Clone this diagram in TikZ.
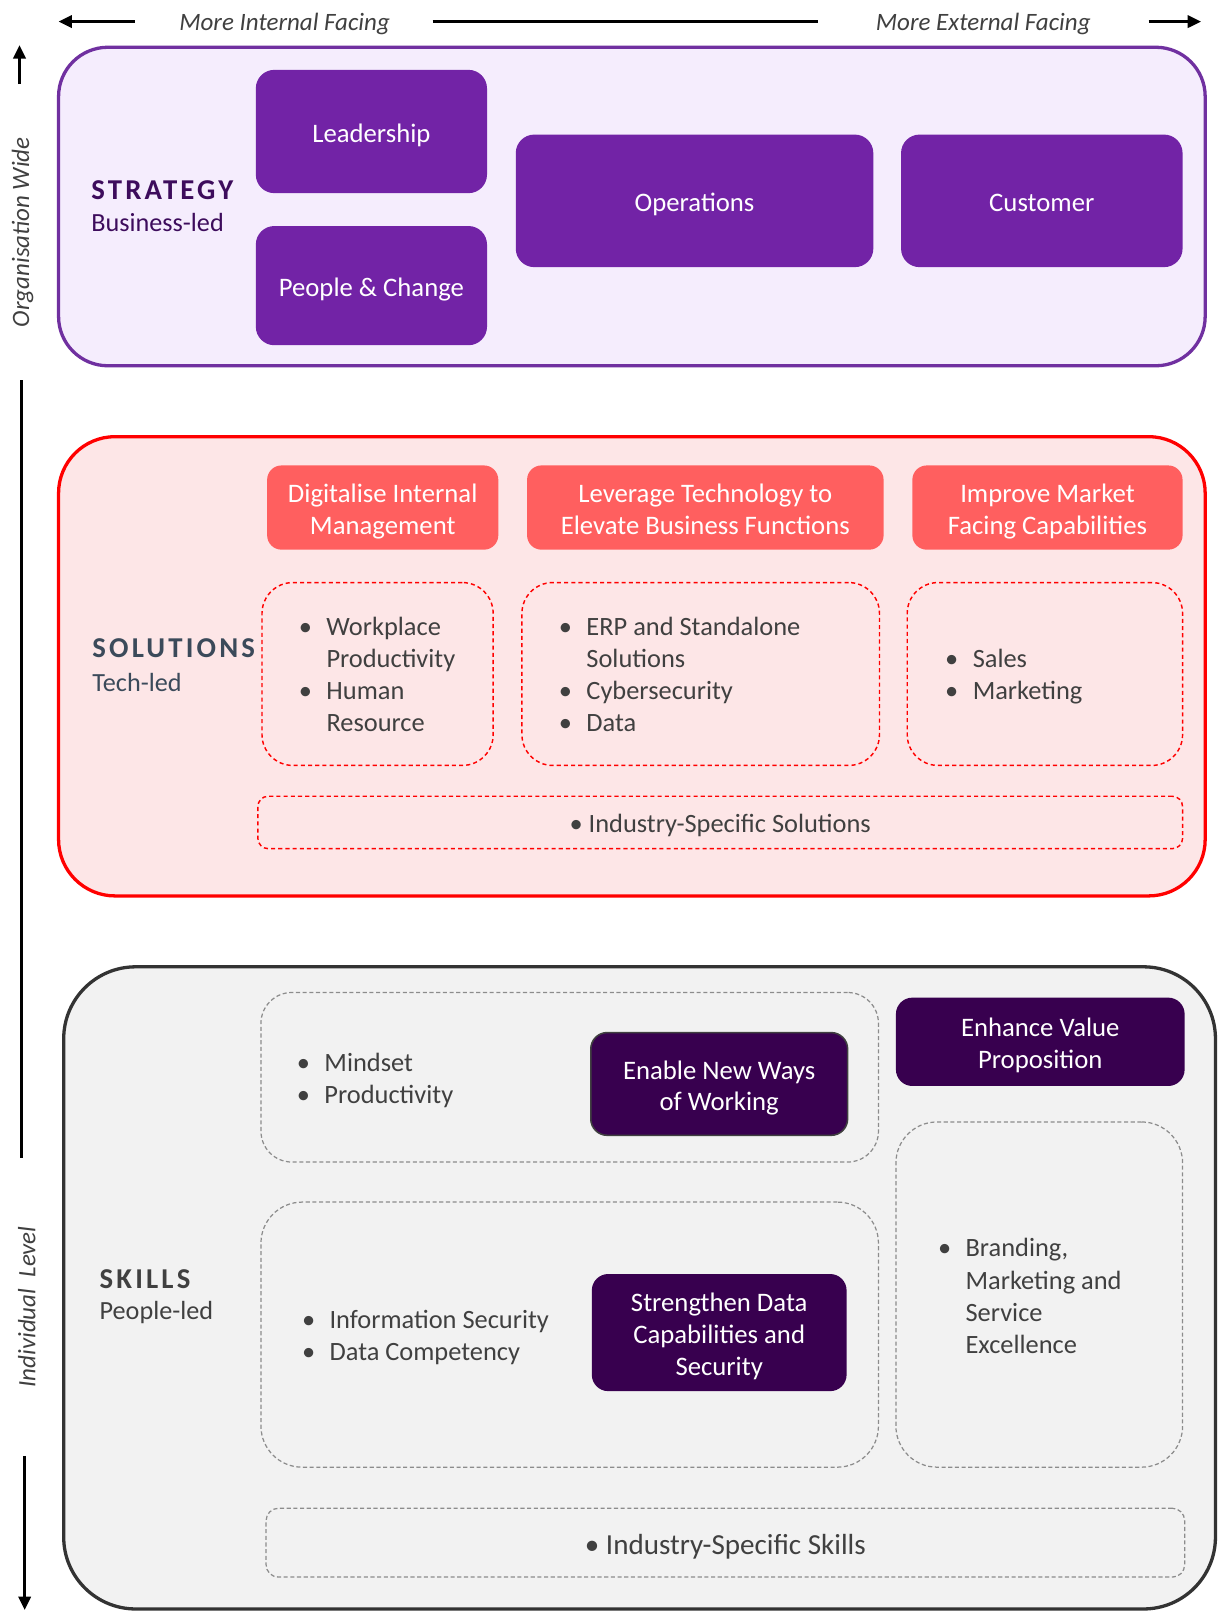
\documentclass[tikz,border=0pt]{standalone}
\usepackage{fontspec}
\setmainfont{Carlito}
\usetikzlibrary{arrows.meta}

\definecolor{txt}{HTML}{404040}
\definecolor{stratline}{HTML}{7030A0}
\definecolor{stratbg}{HTML}{F5EDFD}
\definecolor{stratfill}{HTML}{7223A6}
\definecolor{strattxt}{HTML}{3D0C5C}
\definecolor{solline}{HTML}{FF0000}
\definecolor{solbg}{HTML}{FDE6E7}
\definecolor{hdrfill}{HTML}{FF5F5F}
\definecolor{soltxt}{HTML}{3B4A5A}
\definecolor{skillline}{HTML}{333333}
\definecolor{skillbg}{HTML}{F2F2F2}
\definecolor{greydash}{HTML}{8C8C8C}
\definecolor{darkfill}{HTML}{38004F}

% bullet list with hanging text column
\newcommand\blist[1]{\begin{tabular}{@{}l@{\hspace{14pt}}l@{}}#1\end{tabular}}
% centred box caption, nudged down (keeping its box size) to sit optically centred
\newcommand\boxcap[1]{\raisebox{-4.5pt}[\height][\depth]{\begin{tabular}{@{}c@{}}#1\end{tabular}}}

\tikzset{
  base/.style={inner sep=0pt, outer sep=0pt, text=txt},
  sz/.style 2 args={minimum width=#1pt, minimum height=#2pt},
  panel/.style={base, rectangle, line width=3.2pt},
  stratpanel/.style={panel, draw=stratline, fill=stratbg, rounded corners=48pt},
  solpanel/.style={panel, draw=solline, fill=solbg, rounded corners=55pt},
  skillpanel/.style={panel, draw=skillline, fill=skillbg, rounded corners=70pt},
  boxtext/.style={text=white, align=center, font=\fontsize{26}{31}\selectfont},
  stratbox/.style={base, boxtext, fill=stratfill, rounded corners=18pt},
  hdrbox/.style={base, boxtext, fill=hdrfill, rounded corners=14pt},
  darkbox/.style={base, boxtext, fill=darkfill, rounded corners=16pt},
  reddash/.style={base, draw=solline, line width=1.4pt, dash pattern=on 4pt off 3pt, rounded corners=#1},
  reddash/.default=30pt,
  greybox/.style={base, draw=greydash, line width=1.2pt, dash pattern=on 4pt off 2.5pt, rounded corners=#1},
  greybox/.default=40pt,
  bullets/.style={base, anchor=west, font=\fontsize{25.7}{31.3}\selectfont},
  axisline/.style={line width=2.6pt},
  axisarrow/.style={axisline, -{Triangle[length=13pt, width=12pt]}},
  axislabel/.style={base, font=\fontsize{24.3}{28}\selectfont\itshape},
  tagbold/.style={base, anchor=west, font=\fontsize{28}{32}\selectfont\bfseries\addfontfeature{LetterSpace=11}},
  tagsub/.style={base, anchor=west, font=\fontsize{25.5}{30}\selectfont},
}

\begin{document}
\begin{tikzpicture}[x=1pt, y=-1pt]
\useasboundingbox[fill=white] (0,0) rectangle (1188,1568);

% ---- axes ----
\coordinate (hl1) at (131,21); \coordinate (hl0) at (57,21);
\coordinate (hm0) at (421,21); \coordinate (hm1) at (796,21);
\coordinate (hr0) at (1118,21); \coordinate (hr1) at (1169,21);
\draw[axisarrow] (hl1) -- (hl0);
\draw[axisline] (hm0) -- (hm1);
\draw[axisarrow] (hr0) -- (hr1);
\node[axislabel] (inlab) at (277,23) {More Internal Facing};
\node[axislabel] (exlab) at (957,23) {More External Facing};

\coordinate (vu0) at (19,82); \coordinate (vu1) at (19,44);
\coordinate (vm0) at (21,370); \coordinate (vm1) at (21,1127);
\coordinate (vd0) at (24,1417); \coordinate (vd1) at (24,1567);
\draw[axisarrow] (vu0) -- (vu1);
\draw[axisline] (vm0) -- (vm1);
\draw[axisarrow] (vd0) -- (vd1);
\node[axislabel, rotate=90] (orglab) at (22,226) {Organisation Wide};
\node[axislabel, rotate=90] (indlab) at (26,1272) {Individual~ Level};

% ---- strategy ----
\node[stratpanel, sz={1116}{310}] (strat) at (615,201) {};
\node[tagbold, text=strattxt] (stratT) at (89,185) {STRATEGY};
\node[tagsub, text=strattxt] (stratS) at (89,217) {Business-led};
\node[stratbox, sz={225}{120}] (lead) at (361.5,128) {\boxcap{Leadership}};
\node[stratbox, sz={225}{116}] (people) at (361.5,278) {\boxcap{People \& Change}};
\node[stratbox, sz={348}{129}] (ops) at (676,195.5) {\boxcap{Operations}};
\node[stratbox, sz={274}{129}] (cust) at (1014,195.5) {\boxcap{Customer}};

% ---- solutions ----
\node[solpanel, sz={1116}{447}] (sol) at (615,648.5) {};
\node[tagbold, text=soltxt] (solT) at (90,631) {SOLUTIONS};
\node[tagsub, text=soltxt] (solS) at (90,664) {Tech-led};
\node[hdrbox, sz={225}{82}] (h1) at (372.5,494) {\boxcap{Digitalise Internal\\Management}};
\node[hdrbox, sz={347}{82}] (h2) at (686.5,494) {\boxcap{Leverage Technology to\\Elevate Business Functions}};
\node[hdrbox, sz={263}{82}] (h3) at (1019.5,494) {\boxcap{Improve Market\\Facing Capabilities}};
\node[reddash, sz={225}{178}] (d1) at (367.5,656) {};
\node[reddash, sz={348}{178}] (d2) at (682,656) {};
\node[reddash, sz={268}{178}] (d3) at (1017,656) {};
\node[reddash=10pt, sz={900}{51}] (d4) at (701,800.5) {};
\node[bullets] (l1) at (291,659) {\blist{\textbullet & Workplace\\ & Productivity\\ \textbullet & Human\\ & Resource}};
\node[bullets] (l2) at (544,659) {\blist{\textbullet & ERP and Standalone\\ & Solutions\\ \textbullet & Cybersecurity\\ \textbullet & Data}};
\node[bullets] (l3) at (920,659) {\blist{\textbullet & Sales\\ \textbullet & Marketing}};
\node[base, font=\fontsize{25.7}{28}\selectfont] (l4) at (701,803) {\textbullet\ Industry-Specific Solutions};

% ---- skills ----
\node[skillpanel, sz={1121}{625}] (skill) at (622.5,1253.5) {};
\node[tagbold] (skT) at (97,1245) {SKILLS};
\node[tagsub] (skS) at (97,1277) {People-led};
\node[greybox=30pt, sz={601}{165}] (g1) at (554.5,1048.5) {};
\node[greybox, sz={601}{258}] (g2) at (554.5,1299) {};
\node[greybox, sz={279}{336}] (g3) at (1011.5,1260) {};
\node[greybox=12pt, sz={894}{67}] (g4) at (706,1501.5) {};
\node[darkbox, draw=txt, line width=1.5pt, sz={250}{100}] (enable) at (700,1055) {\boxcap{Enable New Ways\\of Working}};
\node[darkbox, sz={281}{86}] (enh) at (1012.5,1014) {\boxcap{Enhance Value\\Proposition}};
\node[darkbox, sz={248}{114}] (str) at (700,1297) {\boxcap{Strengthen Data\\Capabilities and\\Security}};
\node[bullets] (k1) at (289,1052) {\blist{\textbullet & Mindset\\ \textbullet & Productivity}};
\node[bullets] (k2) at (294,1302) {\blist{\textbullet & Information Security\\ \textbullet & Data Competency}};
\node[bullets] (k3) at (913,1264) {\blist{\textbullet & Branding,\\ & Marketing and\\ & Service\\ & Excellence}};
\node[base, font=\fontsize{28.3}{30}\selectfont] (k4) at (706,1505) {\textbullet\ Industry-Specific Skills};
\end{tikzpicture}
\end{document}
